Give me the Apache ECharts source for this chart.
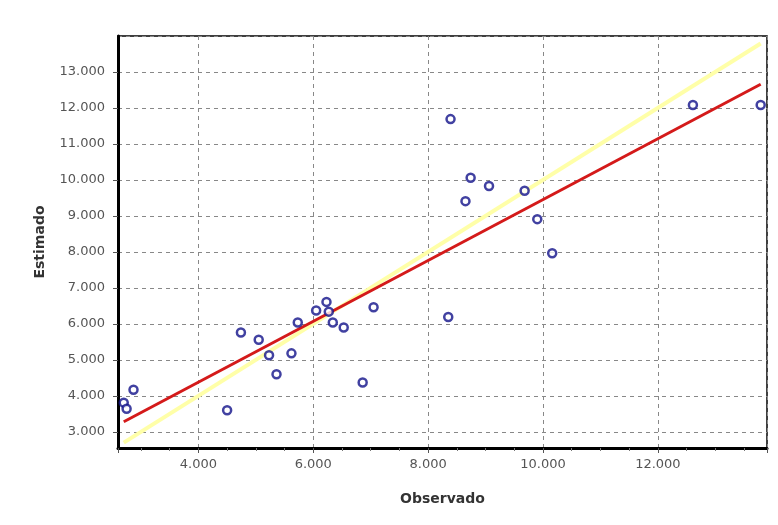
<!DOCTYPE html>
<html>
<head>
<meta charset="utf-8">
<script src="https://cdn.jsdelivr.net/npm/echarts@6/dist/echarts.min.js"></script>
<style>
  html, body { margin: 0; padding: 0; background: #fff; }
  #chart { width: 778px; height: 525px; }
</style>
</head>
<body>
<div id="chart"></div>
<script>
(function(){
    // observado / estimado pairs
    var observado = [2700, 2750, 2870, 4500, 4740, 5050, 5230, 5360, 5620, 5730,
                     6050, 6230, 6270, 6340, 6530, 6860, 7050, 8390, 8740, 9060,
                     8650, 9680, 9900, 10160, 8350, 12610, 13790];
    var estimado = [3810, 3640, 4170, 3600, 5760, 5560, 5130, 4600, 5180, 6040,
                    6370, 6610, 6340, 6040, 5900, 4370, 6460, 11690, 10060, 9830,
                    9410, 9700, 8910, 7960, 6190, 12080, 12080];
    // regression fit (red) and 1:1 line (yellow), end points
    var fitLine = [[2700, 3280], [13790, 12660]];
    var identityLine = [[2700, 2700], [13790, 13790]];

    var points = observado.map(function(x, i){
        return [x, estimado[i]];
    });

    var fmt = function(v){
        return (v / 1000).toFixed(3);
    };

    var option = {
        backgroundColor: '#fff',
        animation: false,
        grid: {
            left: 118,
            right: 11,
            top: 36,
            bottom: 77,
            show: true,
            borderColor: '#000',
            borderWidth: 1.5
        },
        xAxis: {
            type: 'value',
            min: 2600,
            max: 13900,
            splitNumber: 5,
            name: 'Observado',
            nameLocation: 'middle',
            nameGap: 44,
            nameTextStyle: {
                fontFamily: 'DejaVu Sans',
                fontWeight: 'bold',
                fontSize: 14,
                color: '#333'
            },
            axisLine: { show: true, lineStyle: { color: '#000', width: 3 } },
            axisTick: { show: true, length: 5, lineStyle: { color: '#555' } },
            minorTick: { show: true, splitNumber: 4, length: 3, lineStyle: { color: '#777' } },
            axisLabel: {
                formatter: fmt,
                showMinLabel: false,
                showMaxLabel: false,
                margin: 10,
                fontFamily: 'DejaVu Sans',
                fontSize: 13,
                color: '#555'
            },
            splitLine: {
                show: true,
                lineStyle: { color: '#888', type: [4, 4], width: 1 }
            }
        },
        yAxis: {
            type: 'value',
            min: 2550,
            max: 14000,
            splitNumber: 10,
            name: 'Estimado',
            nameLocation: 'middle',
            nameGap: 71,
            nameTextStyle: {
                fontFamily: 'DejaVu Sans',
                fontWeight: 'bold',
                fontSize: 14,
                color: '#333'
            },
            axisLine: { show: true, lineStyle: { color: '#000', width: 3 } },
            axisTick: { show: true, length: 5, lineStyle: { color: '#555' } },
            axisLabel: {
                formatter: fmt,
                showMinLabel: false,
                showMaxLabel: false,
                margin: 13,
                fontFamily: 'DejaVu Sans',
                fontSize: 13,
                color: '#555'
            },
            splitLine: {
                show: true,
                lineStyle: { color: '#888', type: [4, 4], width: 1 }
            }
        },
        series: [
            {
                name: '1:1',
                type: 'line',
                data: identityLine,
                showSymbol: false,
                z: 1,
                lineStyle: { color: '#ffffa8', width: 4 }
            },
            {
                name: 'Ajuste',
                type: 'line',
                data: fitLine,
                showSymbol: false,
                z: 2,
                lineStyle: { color: '#d41a1a', width: 3 }
            },
            {
                name: 'Datos',
                type: 'scatter',
                data: points,
                symbol: 'circle',
                symbolSize: 8,
                z: 3,
                itemStyle: {
                    color: '#fff',
                    borderColor: '#12128a',
                    borderWidth: 2.5
                }
            }
        ]
    };
    var chart = echarts.init(document.getElementById('chart'));
    chart.setOption(option);
})();
</script>
</body>
</html>
